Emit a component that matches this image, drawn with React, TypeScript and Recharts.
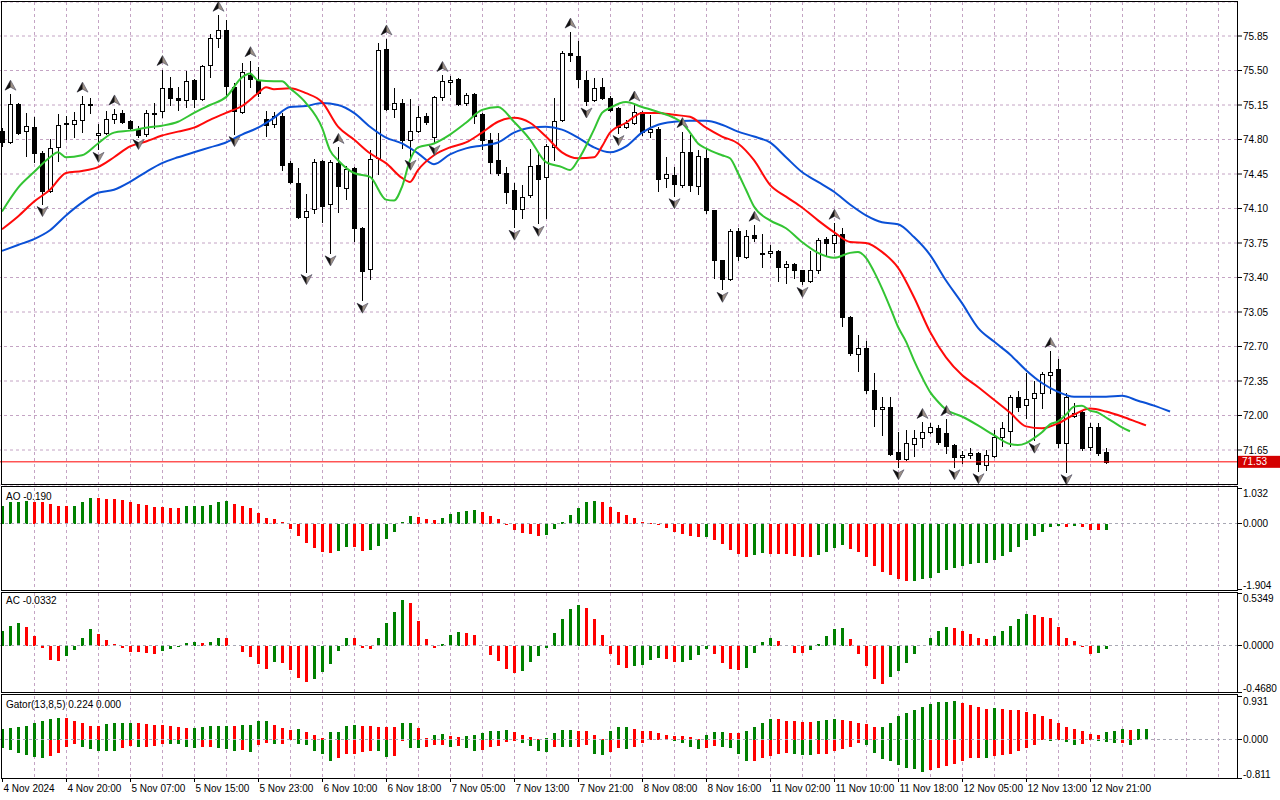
import React from "react";
import { ComposedChart, Bar, Line, XAxis, YAxis, CartesianGrid, ReferenceLine, Cell } from "recharts";

const FONT = '"Liberation Sans", Arial, sans-serif';

// ---------- price candles (hourly) ----------
const OPEN = [
  74.89, 74.77, 75.16, 74.89, 74.93, 74.66, 74.28, 74.72, 74.96, 74.96,
  75.00, 75.15, 74.85, 74.87, 75.01, 75.07, 74.99, 74.91, 74.86, 75.06,
  75.09, 75.32, 75.22, 75.20, 75.40, 75.21, 75.56, 75.83, 75.91, 75.33,
  75.08, 75.45, 75.40, 75.01, 74.96, 75.04, 74.56, 74.36, 74.01, 74.09,
  74.58, 74.15, 74.56, 74.31, 74.51, 73.90, 73.49, 74.61, 75.72, 75.11,
  75.17, 74.80, 74.89, 75.04, 74.83, 75.23, 75.38, 75.41, 75.17, 75.26,
  75.06, 74.80, 74.59, 74.46, 74.29, 74.10, 74.24, 74.54, 74.42, 74.72,
  75.00, 75.68, 75.65, 75.40, 75.20, 75.33, 75.22, 75.12, 74.93, 74.97,
  75.08, 74.88, 74.91, 74.41, 74.44, 74.34, 74.67, 74.33, 74.61, 74.08,
  73.58, 73.38, 73.87, 73.61, 73.83, 73.65, 73.65, 73.67, 73.51, 73.54,
  73.48, 73.36, 73.48, 73.79, 73.75, 73.84, 73.00, 72.62, 72.68, 72.26,
  72.07, 72.09, 71.63, 71.56, 71.71, 71.77, 71.83, 71.87, 71.82, 71.70,
  71.58, 71.60, 71.62, 71.50, 71.59, 71.78, 71.84, 72.19, 72.11, 72.18,
  72.23, 72.41, 72.47, 71.72, 72.00, 72.04, 71.68, 71.88, 71.63,
];
const HIGH = [
  74.92, 75.26, 75.17, 75.07, 75.03, 74.68, 74.81, 75.06, 75.04, 75.08,
  75.24, 75.22, 74.96, 75.09, 75.11, 75.10, 75.00, 74.94, 75.10, 75.17,
  75.51, 75.43, 75.33, 75.50, 75.41, 75.56, 75.87, 76.06, 76.01, 75.37,
  75.58, 75.60, 75.54, 75.09, 75.08, 75.07, 74.58, 74.51, 74.25, 74.60,
  74.59, 74.59, 74.72, 74.53, 74.52, 73.91, 74.69, 75.78, 75.82, 75.32,
  75.21, 75.21, 75.14, 75.07, 75.24, 75.45, 75.44, 75.42, 75.27, 75.27,
  75.07, 74.87, 74.87, 74.52, 74.36, 74.34, 74.70, 74.66, 74.75, 75.22,
  75.70, 75.89, 75.80, 75.50, 75.42, 75.42, 75.24, 75.13, 75.00, 75.15,
  75.09, 75.05, 74.93, 74.62, 74.52, 74.88, 74.85, 74.69, 74.70, 74.08,
  73.58, 73.89, 73.90, 73.88, 73.93, 73.84, 73.73, 73.68, 73.57, 73.55,
  73.48, 73.67, 73.80, 73.81, 73.95, 73.90, 73.01, 72.82, 72.76, 72.43,
  72.19, 72.19, 71.83, 71.85, 71.85, 71.93, 71.92, 71.90, 71.96, 71.71,
  71.64, 71.67, 71.63, 71.65, 71.85, 71.93, 72.21, 72.25, 72.43, 72.35,
  72.44, 72.65, 72.57, 72.23, 72.13, 72.05, 71.92, 71.92, 71.67,
];
const LOW = [
  74.73, 74.76, 74.86, 74.63, 74.57, 74.15, 74.27, 74.58, 74.81, 74.83,
  74.88, 75.07, 74.70, 74.86, 74.97, 74.97, 74.90, 74.83, 74.84, 74.92,
  75.03, 75.15, 75.10, 75.13, 75.13, 75.20, 75.43, 75.74, 75.23, 74.86,
  75.07, 75.33, 75.24, 74.84, 74.93, 74.49, 74.36, 74.00, 73.46, 74.05,
  73.96, 73.65, 74.06, 74.20, 73.77, 73.17, 73.38, 74.45, 75.10, 75.03,
  74.71, 74.62, 74.88, 74.96, 74.77, 75.20, 75.26, 75.15, 75.15, 74.97,
  74.70, 74.46, 74.44, 74.16, 73.91, 74.00, 74.22, 73.95, 74.00, 74.59,
  74.99, 75.60, 75.33, 75.15, 75.19, 75.21, 75.09, 74.87, 74.92, 74.96,
  74.85, 74.83, 74.28, 74.32, 74.23, 74.32, 74.28, 74.25, 74.05, 73.40,
  73.28, 73.37, 73.58, 73.60, 73.77, 73.51, 73.61, 73.36, 73.34, 73.40,
  73.33, 73.35, 73.45, 73.63, 73.66, 72.91, 72.61, 72.45, 72.23, 71.89,
  71.80, 71.60, 71.48, 71.55, 71.59, 71.68, 71.82, 71.71, 71.62, 71.48,
  71.52, 71.57, 71.44, 71.45, 71.58, 71.69, 71.69, 72.05, 71.97, 71.75,
  72.08, 72.23, 71.68, 71.43, 71.98, 71.65, 71.65, 71.60, 71.52,
];
const CLOSE = [
  74.77, 75.16, 74.87, 74.94, 74.66, 74.28, 74.71, 74.95, 74.97, 75.00,
  75.16, 75.16, 74.87, 75.01, 75.06, 74.98, 74.92, 74.85, 75.07, 75.07,
  75.32, 75.22, 75.20, 75.39, 75.21, 75.55, 75.83, 75.91, 75.34, 75.09,
  75.48, 75.41, 75.27, 74.95, 75.04, 74.54, 74.37, 74.01, 74.07, 74.57,
  74.13, 74.57, 74.33, 74.50, 73.90, 73.47, 74.60, 75.71, 75.11, 75.17,
  74.79, 74.89, 75.03, 74.98, 75.23, 75.39, 75.40, 75.16, 75.25, 75.04,
  74.80, 74.57, 74.46, 74.27, 74.10, 74.22, 74.53, 74.40, 74.73, 74.99,
  75.68, 75.66, 75.41, 75.19, 75.32, 75.22, 75.10, 74.93, 74.97, 75.08,
  74.88, 74.91, 74.40, 74.45, 74.35, 74.67, 74.34, 74.63, 74.08, 73.58,
  73.38, 73.87, 73.62, 73.82, 73.80, 73.64, 73.67, 73.51, 73.54, 73.48,
  73.36, 73.48, 73.78, 73.75, 73.83, 73.00, 72.63, 72.68, 72.26, 72.07,
  72.09, 71.61, 71.56, 71.72, 71.77, 71.83, 71.88, 71.73, 71.69, 71.58,
  71.60, 71.62, 71.51, 71.60, 71.78, 71.87, 72.19, 72.09, 72.17, 72.23,
  72.42, 72.44, 71.72, 72.19, 72.03, 71.67, 71.88, 71.62, 71.53,
];

// bars carrying a fractal
const FRACTAL_UP = [1, 10, 14, 20, 27, 31, 42, 48, 55, 71, 79, 85, 94, 104, 115, 118, 131];
const FRACTAL_DOWN = [5, 12, 17, 29, 38, 41, 45, 51, 54, 64, 67, 73, 77, 84, 90, 100, 112, 119, 122, 129, 133];

// ---------- Alligator lines: [bar, price] ----------
const JAW: [number, number][] = [
  [0, 73.67], [2, 73.73], [4, 73.79], [6, 73.88], [8, 74.03], [10, 74.16], [12, 74.26], [14, 74.29],
  [16, 74.37], [18, 74.47], [20, 74.56], [22, 74.62], [24, 74.67], [26, 74.72], [28, 74.77], [30, 74.85],
  [32, 74.92], [34, 75.02], [36, 75.13], [38, 75.14], [40, 75.17], [42, 75.15], [44, 75.07], [46, 74.93],
  [48, 74.82], [50, 74.76], [52, 74.66], [54, 74.55], [56, 74.65], [58, 74.71], [60, 74.74], [62, 74.77],
  [64, 74.87], [66, 74.92], [68, 74.93], [70, 74.90], [72, 74.82], [74, 74.72], [76, 74.67], [78, 74.73],
  [80, 74.87], [82, 74.95], [84, 74.98], [86, 74.99], [88, 74.99], [90, 74.95], [92, 74.88], [94, 74.83],
  [96, 74.77], [98, 74.62], [100, 74.47], [102, 74.37], [104, 74.27], [106, 74.14], [108, 74.03], [110, 73.96],
  [112, 73.94], [114, 73.81], [116, 73.63], [118, 73.37], [120, 73.14], [122, 72.89], [124, 72.75], [126, 72.62],
  [128, 72.46], [130, 72.33], [132, 72.24], [134, 72.19], [136, 72.19], [138, 72.19], [140, 72.20], [142, 72.15],
  [144, 72.10], [146, 72.04],
];
const TEETH: [number, number][] = [
  [0, 73.89], [2, 74.02], [4, 74.17], [6, 74.29], [8, 74.46], [10, 74.48], [12, 74.52], [14, 74.62],
  [16, 74.73], [18, 74.78], [20, 74.84], [22, 74.88], [24, 74.92], [26, 75.00], [28, 75.07], [30, 75.14],
  [32, 75.27], [33, 75.33], [34, 75.31], [36, 75.32], [38, 75.27], [40, 75.18], [42, 74.93], [44, 74.80],
  [46, 74.66], [48, 74.56], [50, 74.41], [51, 74.37], [52, 74.49], [54, 74.64], [56, 74.72], [58, 74.77],
  [60, 74.87], [62, 74.98], [64, 75.02], [66, 74.97], [68, 74.83], [70, 74.67], [72, 74.61], [74, 74.62],
  [75, 74.73], [76, 74.87], [78, 74.97], [80, 75.07], [82, 75.07], [84, 75.05], [86, 75.03], [88, 74.92],
  [90, 74.83], [92, 74.76], [94, 74.59], [96, 74.34], [98, 74.22], [100, 74.11], [102, 73.98], [104, 73.86],
  [106, 73.76], [108, 73.75], [110, 73.66], [112, 73.50], [114, 73.20], [116, 72.85], [118, 72.59], [120, 72.41],
  [122, 72.29], [124, 72.16], [126, 72.03], [128, 71.89], [130, 71.87], [132, 71.92], [134, 72.01], [136, 72.07],
  [138, 72.04], [140, 71.99], [142, 71.93], [143, 71.90],
];
const LIPS: [number, number][] = [
  [0, 74.07], [2, 74.31], [4, 74.47], [6, 74.62], [7, 74.67], [8, 74.62], [10, 74.64], [12, 74.76],
  [14, 74.87], [16, 74.89], [18, 74.92], [20, 74.94], [22, 74.98], [24, 75.07], [26, 75.15], [28, 75.23],
  [30, 75.43], [31, 75.47], [32, 75.40], [34, 75.39], [35, 75.39], [36, 75.32], [38, 75.17], [40, 74.92],
  [41, 74.69], [42, 74.59], [44, 74.46], [46, 74.42], [48, 74.19], [49, 74.18], [50, 74.32], [51, 74.59],
  [52, 74.72], [54, 74.76], [56, 74.85], [58, 74.97], [60, 75.10], [62, 75.13], [64, 74.98], [66, 74.80],
  [68, 74.57], [70, 74.52], [71, 74.49], [72, 74.59], [74, 74.90], [75, 75.07], [76, 75.12], [78, 75.18],
  [80, 75.13], [82, 75.08], [84, 75.02], [85, 74.97], [86, 74.87], [87, 74.76], [88, 74.71], [90, 74.64],
  [91, 74.61], [92, 74.46], [93, 74.29], [94, 74.12], [96, 73.98], [98, 73.90], [100, 73.76], [102, 73.65],
  [104, 73.60], [106, 73.65], [107, 73.66], [108, 73.60], [109, 73.46], [110, 73.29], [111, 73.10], [112, 72.90],
  [113, 72.75], [114, 72.56], [115, 72.39], [116, 72.24], [117, 72.14], [118, 72.06], [120, 71.99], [122, 71.90],
  [124, 71.80], [126, 71.71], [127, 71.70], [128, 71.72], [129, 71.77], [130, 71.83], [131, 71.91], [132, 71.94],
  [133, 72.01], [134, 72.09], [135, 72.10], [136, 72.05], [137, 72.03], [138, 71.98], [139, 71.93], [140, 71.88],
  [141, 71.84],
];

// ---------- oscillators ----------
const AO = [
  0.50, 0.63, 0.635, 0.64, 0.635, 0.62, 0.56, 0.50, 0.495, 0.50,
  0.63, 0.74, 0.73, 0.71, 0.70, 0.68, 0.63, 0.58, 0.53, 0.475,
  0.47, 0.465, 0.46, 0.50, 0.505, 0.51, 0.54, 0.63, 0.66, 0.56,
  0.50, 0.45, 0.31, 0.155, 0.126, 0.03, -0.155, -0.37, -0.57, -0.72,
  -0.82, -0.86, -0.79, -0.68, -0.685, -0.79, -0.77, -0.65, -0.44, -0.24,
  0.04, 0.21, 0.18, 0.13, 0.10, 0.16, 0.27, 0.33, 0.37, 0.40,
  0.33, 0.21, 0.135, -0.04, -0.18, -0.29, -0.30, -0.36, -0.33, -0.155,
  0.04, 0.24, 0.45, 0.63, 0.66, 0.62, 0.48, 0.33, 0.25, 0.155,
  0.04, 0.01, -0.04, -0.13, -0.24, -0.30, -0.36, -0.39, -0.385, -0.47,
  -0.61, -0.77, -0.88, -0.96, -0.91, -0.86, -0.875, -0.88, -0.90, -0.94,
  -0.97, -0.975, -0.91, -0.83, -0.71, -0.63, -0.73, -0.83, -0.97, -1.23,
  -1.41, -1.49, -1.62, -1.67, -1.665, -1.61, -1.57, -1.44, -1.36, -1.28,
  -1.24, -1.18, -1.15, -1.145, -1.07, -0.94, -0.83, -0.68, -0.47, -0.36,
  -0.24, -0.10, -0.07, -0.10, -0.06, -0.10, -0.185, -0.195, -0.19,
];
const AC = [
  0.145, 0.196, 0.226, 0.186, 0.095, -0.027, -0.139, -0.149, -0.108, -0.047,
  0.084, 0.166, 0.115, 0.054, 0.014, -0.027, -0.064, -0.065, -0.074, -0.088,
  -0.057, -0.034, -0.014, 0.024, 0.034, 0.033, 0.035, 0.084, 0.074, -0.007,
  -0.064, -0.118, -0.189, -0.23, -0.169, -0.179, -0.243, -0.328, -0.368, -0.341,
  -0.267, -0.189, -0.057, 0.084, 0.074, -0.025, -0.03, 0.084, 0.23, 0.338,
  0.459, 0.429, 0.247, 0.064, -0.027, 0.014, 0.105, 0.135, 0.125, 0.105,
  -0.007, -0.098, -0.159, -0.24, -0.28, -0.26, -0.169, -0.108, -0.027, 0.125,
  0.267, 0.368, 0.409, 0.378, 0.267, 0.105, -0.078, -0.199, -0.22, -0.209,
  -0.199, -0.145, -0.128, -0.13, -0.166, -0.165, -0.145, -0.095, -0.037, -0.078,
  -0.179, -0.24, -0.25, -0.22, -0.074, 0.034, 0.074, 0.044, -0.007, -0.068,
  -0.069, -0.047, 0.014, 0.095, 0.166, 0.176, 0.064, -0.078, -0.209, -0.341,
  -0.382, -0.311, -0.26, -0.176, -0.088, -0.003, 0.084, 0.155, 0.186, 0.176,
  0.145, 0.115, 0.084, 0.064, 0.095, 0.145, 0.196, 0.267, 0.318, 0.307,
  0.287, 0.277, 0.186, 0.084, 0.044, -0.017, -0.078, -0.068, -0.0332,
];
const GATOR_UP = [
  0.22, 0.248, 0.269, 0.297, 0.354, 0.404, 0.432, 0.46, 0.455, 0.41,
  0.347, 0.29, 0.288, 0.333, 0.347, 0.354, 0.368, 0.347, 0.326, 0.312,
  0.305, 0.29, 0.262, 0.241, 0.248, 0.283, 0.29, 0.297, 0.298, 0.29,
  0.312, 0.319, 0.39, 0.391, 0.305, 0.248, 0.212, 0.22, 0.156, 0.10,
  0.035, 0.156, 0.157, 0.29, 0.305, 0.304, 0.297, 0.276, 0.275, 0.269,
  0.347, 0.368, 0.241, 0.035, 0.113, 0.114, 0.071, 0.07, 0.085, 0.10,
  0.135, 0.177, 0.198, 0.199, 0.163, 0.113, 0.057, 0.028, 0.042, 0.149,
  0.212, 0.213, 0.184, 0.177, 0.113, 0.028, 0.191, 0.262, 0.263, 0.225,
  0.198, 0.177, 0.135, 0.099, 0.078, 0.071, 0.05, 0.021, 0.099, 0.156,
  0.157, 0.155, 0.135, 0.177, 0.262, 0.368, 0.453, 0.452, 0.41, 0.395,
  0.388, 0.382, 0.41, 0.412, 0.432, 0.43, 0.41, 0.368, 0.326, 0.262,
  0.283, 0.368, 0.496, 0.56, 0.644, 0.694, 0.758, 0.793, 0.814, 0.815,
  0.772, 0.73, 0.687, 0.663, 0.666, 0.664, 0.644, 0.623, 0.595, 0.538,
  0.496, 0.432, 0.347, 0.262, 0.22, 0.191, 0.127, 0.113, 0.156, 0.198,
  0.22, 0.219, 0.221, 0.24,
];
const GATOR_DOWN = [
  -0.177, -0.212, -0.29, -0.333, -0.375, -0.39, -0.34, -0.29, -0.156, -0.092,
  -0.156, -0.198, -0.227, -0.228, -0.248, -0.177, -0.135, -0.163, -0.142, -0.141,
  -0.092, -0.093, -0.094, -0.142, -0.184, -0.163, -0.162, -0.184, -0.198, -0.227,
  -0.22, -0.269, -0.12, -0.057, -0.092, -0.085, -0.014, -0.092, -0.106, -0.227,
  -0.305, -0.44, -0.39, -0.305, -0.304, -0.262, -0.227, -0.241, -0.368, -0.34,
  -0.028, -0.177, -0.184, -0.156, -0.113, -0.106, -0.142, -0.141, -0.177, -0.234,
  -0.22, -0.142, -0.135, -0.05, -0.028, -0.078, -0.135, -0.227, -0.262, -0.156,
  -0.157, -0.158, -0.156, -0.106, -0.297, -0.319, -0.262, -0.184, -0.185, -0.142,
  -0.071, -0.014, -0.014, -0.007, -0.02, -0.071, -0.156, -0.198, -0.184, -0.127,
  -0.163, -0.177, -0.305, -0.453, -0.452, -0.39, -0.347, -0.305, -0.29, -0.291,
  -0.319, -0.326, -0.305, -0.297, -0.248, -0.191, -0.142, -0.078, -0.113, -0.283,
  -0.41, -0.453, -0.538, -0.60, -0.623, -0.673, -0.644, -0.595, -0.56, -0.517,
  -0.44, -0.39, -0.39, -0.395, -0.34, -0.319, -0.305, -0.248, -0.177, -0.106,
  -0.014, -0.028, -0.014, -0.05, -0.106, -0.085, -0.01, -0.035, -0.05, -0.071,
  -0.07, -0.12,
];

// ---------- axes ----------
const PRICE_TICKS = [75.85, 75.5, 75.15, 74.8, 74.45, 74.1, 73.75, 73.4, 73.05, 72.7, 72.35, 72.0, 71.65];
const PRICE_DOMAIN: [number, number] = [71.295, 76.195];
const LAST_PRICE = 71.53;
const AO_RANGE: [number, number] = [-1.904, 1.032];
const AC_RANGE: [number, number] = [-0.468, 0.5349];
const GATOR_RANGE: [number, number] = [-0.811, 0.931];
const TIME_TICKS = [0, 8, 16, 24, 32, 40, 48, 56, 64, 72, 80, 88, 96, 104, 112, 120, 128, 136];
const TIME_LABELS = [
  "4 Nov 2024", "4 Nov 20:00", "5 Nov 07:00", "5 Nov 15:00", "5 Nov 23:00", "6 Nov 10:00",
  "6 Nov 18:00", "7 Nov 05:00", "7 Nov 13:00", "7 Nov 21:00", "8 Nov 08:00", "8 Nov 16:00",
  "11 Nov 02:00", "11 Nov 10:00", "11 Nov 18:00", "12 Nov 05:00", "12 Nov 13:00", "12 Nov 21:00",
];
const SLOTS = 155;
const GRID_BARS = Array.from({ length: 38 }, (_, k) => (k + 1) * 4);

const GREEN = "#008000";
const RED = "#ff0000";
const GRID = "#c4a4c4";

const trendColors = (vals: number[], useAbs: boolean) => {
  const out: string[] = [];
  let prev: number | null = null;
  let col = GREEN;
  vals.forEach((v) => {
    const a = useAbs ? Math.abs(v) : v;
    if (prev !== null) {
      if (a > prev) col = GREEN;
      else if (a < prev) col = RED;
    }
    out.push(col);
    prev = a;
  });
  return out;
};
const AO_COL = trendColors(AO, false);
const AC_COL = trendColors(AC, false);
const GU_COL = trendColors(GATOR_UP, true);
const GD_COL = trendColors(GATOR_DOWN, true);

const jawMap = new Map(JAW);
const teethMap = new Map(TEETH);
const lipsMap = new Map(LIPS);

const ROWS = Array.from({ length: SLOTS }, (_, i) => {
  const has = i < OPEN.length;
  return {
    i,
    range: has ? [LOW[i], HIGH[i]] : null,
    o: has ? OPEN[i] : null,
    h: has ? HIGH[i] : null,
    l: has ? LOW[i] : null,
    c: has ? CLOSE[i] : null,
    fu: FRACTAL_UP.includes(i) ? HIGH[i] : null,
    fd: FRACTAL_DOWN.includes(i) ? LOW[i] : null,
    jaw: jawMap.has(i) ? jawMap.get(i) : null,
    teeth: teethMap.has(i) ? teethMap.get(i) : null,
    lips: lipsMap.has(i) ? lipsMap.get(i) : null,
    ao: i < AO.length ? AO[i] : null,
    ac: i < AC.length ? AC[i] : null,
    gu: i < GATOR_UP.length ? GATOR_UP[i] : null,
    gd: i < GATOR_DOWN.length ? GATOR_DOWN[i] : null,
  };
});

// vertical grid every 4 bars, placed at the band centres of the category x axis
const verticalGen = (args: any) => {
  const off = (args && args.offset) || { left: 0, width: 1240 };
  const sc = args && args.xAxis && args.xAxis.scale;
  return GRID_BARS.map((k) => {
    let v: number = NaN;
    try {
      if (typeof sc === "function") {
        const bw = typeof sc.bandwidth === "function" ? sc.bandwidth() : 0;
        v = Number(sc(k)) + bw / 2;
      }
    } catch (e) {
      v = NaN;
    }
    if (!isFinite(v)) v = off.left + ((k + 0.5) * off.width) / SLOTS;
    return Math.floor(v) + 0.5;
  });
};

// ---------- shapes ----------
const Candle = (props: any) => {
  const { x, y, width, height, payload } = props;
  if (!payload || payload.o == null || x == null || y == null) return <g />;
  const y1 = Math.min(y, y + height);
  const y2 = Math.max(y, y + height);
  const { o, h, l, c } = payload;
  const toY = (v: number) => (h === l ? y1 : y1 + ((h - v) / (h - l)) * (y2 - y1));
  const cx = Math.floor(x + width / 2) + 0.5;
  const bull = c >= o;
  const bt = Math.round(toY(Math.max(o, c)));
  const bb = Math.round(toY(Math.min(o, c)));
  return (
    <g>
      <line x1={cx} x2={cx} y1={Math.round(y1)} y2={Math.round(y2) + 1} stroke="#000" strokeWidth={1} />
      {bb - bt < 1 ? (
        <line x1={cx - 2.5} x2={cx + 2.5} y1={bt + 0.5} y2={bt + 0.5} stroke="#000" strokeWidth={1} />
      ) : (
        <rect x={cx - 2} y={bt + 0.5} width={4} height={bb - bt} fill={bull ? "#fff" : "#000"} stroke="#000" strokeWidth={1} />
      )}
    </g>
  );
};

const arrow = (x: number, y: number, dir: number, key: string) => (
  <g key={key}>
    <polygon points={`${x},${y - 5 * dir} ${x + 5.5},${y + 5 * dir} ${x},${y + 2 * dir} ${x - 5.5},${y + 5 * dir}`}
      fill="#9c8f84" stroke="#5a5a6e" strokeWidth={0.7} />
    <polygon points={`${x},${y - 5 * dir} ${x},${y + 2 * dir} ${x - 5.5},${y + 5 * dir}`} fill="#111" />
  </g>
);

const UpFractal = (p: any) => {
  const { cx, cy, index, payload } = p;
  if (!payload || payload.fu == null || cy == null || isNaN(cy)) return <g key={`u${index}`} />;
  return arrow(Math.round(cx) + 0.5, cy - 9, 1, `u${index}`);
};
const DownFractal = (p: any) => {
  const { cx, cy, index, payload } = p;
  if (!payload || payload.fd == null || cy == null || isNaN(cy)) return <g key={`d${index}`} />;
  return arrow(Math.round(cx) + 0.5, cy + 8, -1, `d${index}`);
};

const PriceTag = (props: any) => {
  const vb = props.viewBox || {};
  const x = (vb.x || 0) + (vb.width || 0);
  const y = vb.y || 0;
  return (
    <g>
      <rect x={x} y={y - 6} width={42} height={12} fill="#d40000" />
      <text x={x + 4} y={y} dy="0.36em" fill="#fff" fontSize={10} fontFamily={FONT}>
        {LAST_PRICE.toFixed(2)}
      </text>
    </g>
  );
};

const sideTick = (digits: number, lo: number, hi: number) => (props: any) => {
  const { x, y, payload } = props;
  const v = payload.value as number;
  const ty = v === hi ? y + 5 : v === lo ? y - 4 : y;
  return (
    <text x={x} y={ty} dy="0.36em" fontSize={10} fontFamily={FONT} fill="#000" textAnchor="start">
      {v.toFixed(digits)}
    </text>
  );
};

const TimeTick = (props: any) => {
  const { x, y, payload } = props;
  const idx = TIME_TICKS.indexOf(payload.value);
  const px = Math.floor(x) + 0.5;
  return (
    <g>
      <line x1={px} x2={px} y1={y + 1} y2={y + 4} stroke="#000" />
      <text x={px + 1} y={y + 14} fontSize={10} fontFamily={FONT} fill="#000" textAnchor="start">
        {idx >= 0 ? TIME_LABELS[idx] : ""}
      </text>
    </g>
  );
};

const frame = (top: number, height: number) => (
  <div
    style={{
      position: "absolute", left: 1, top, width: 1237, height,
      border: "1px solid #000", boxSizing: "border-box", pointerEvents: "none",
    }}
  />
);

const label = (text: string, top: number) => (
  <div style={{ position: "absolute", left: 6, top, fontSize: 10, lineHeight: "12px", fontFamily: FONT, color: "#000" }}>
    {text}
  </div>
);

export default function App() {
  return (
    <div style={{ position: "absolute", left: 0, top: 0, width: 1280, height: 800, background: "#fff", overflow: "hidden" }}>
      {/* main price pane */}
      <div style={{ position: "absolute", left: -2, top: 0 }}>
        <ComposedChart width={1282} height={487} data={ROWS} margin={{ top: 2, right: 0, bottom: 2, left: 0 }}>
          <XAxis dataKey="i" hide />
          <YAxis orientation="right" width={42} domain={PRICE_DOMAIN} ticks={PRICE_TICKS} allowDataOverflow
            interval={0} axisLine={false} tickSize={4} tickMargin={1} tickLine={{ stroke: "#000" }}
            tick={{ fontSize: 10, fill: "#000", fontFamily: FONT }} tickFormatter={(v: number) => v.toFixed(2)} />
          <CartesianGrid stroke={GRID} strokeDasharray="3 3" verticalCoordinatesGenerator={verticalGen} />
          <ReferenceLine y={LAST_PRICE} stroke="#ff0000" strokeWidth={1} label={<PriceTag />} />
          <Line dataKey="jaw" type="monotone" stroke="#0a50d6" strokeWidth={2} dot={false} activeDot={false} connectNulls isAnimationActive={false} />
          <Line dataKey="teeth" type="monotone" stroke="#ff0a0a" strokeWidth={2} dot={false} activeDot={false} connectNulls isAnimationActive={false} />
          <Line dataKey="lips" type="monotone" stroke="#33c433" strokeWidth={2} dot={false} activeDot={false} connectNulls isAnimationActive={false} />
          <Bar dataKey="range" barSize={5} shape={<Candle />} isAnimationActive={false} />
          <Line dataKey="fu" stroke="none" dot={UpFractal} activeDot={false} isAnimationActive={false} />
          <Line dataKey="fd" stroke="none" dot={DownFractal} activeDot={false} isAnimationActive={false} />
        </ComposedChart>
      </div>

      {/* AO pane: plot 488..589 */}
      <div style={{ position: "absolute", left: -2, top: 486 }}>
        <ComposedChart width={1282} height={105} data={ROWS} margin={{ top: 2, right: 0, bottom: 2, left: 0 }} style={{ shapeRendering: "crispEdges" }}>
          <XAxis dataKey="i" hide />
          <YAxis orientation="right" width={42} domain={AO_RANGE} ticks={[AO_RANGE[1], 0, AO_RANGE[0]]} allowDataOverflow
            interval={0} axisLine={false} tickSize={4} tickMargin={1} tickLine={{ stroke: "#000" }}
            tick={sideTick(3, AO_RANGE[0], AO_RANGE[1])} />
          <CartesianGrid horizontal={false} stroke={GRID} strokeDasharray="3 3" verticalCoordinatesGenerator={verticalGen} />
          <ReferenceLine y={0} stroke="#a8a8b4" strokeDasharray="3 3" />
          <Bar dataKey="ao" barSize={3} isAnimationActive={false}>
            {ROWS.map((r, i) => (
              <Cell key={`ao${i}`} fill={i < AO_COL.length ? AO_COL[i] : GREEN} />
            ))}
          </Bar>
        </ComposedChart>
      </div>

      {/* AC pane: plot 593..692 */}
      <div style={{ position: "absolute", left: -2, top: 591 }}>
        <ComposedChart width={1282} height={103} data={ROWS} margin={{ top: 2, right: 0, bottom: 2, left: 0 }} style={{ shapeRendering: "crispEdges" }}>
          <XAxis dataKey="i" hide />
          <YAxis orientation="right" width={42} domain={AC_RANGE} ticks={[AC_RANGE[1], 0, AC_RANGE[0]]} allowDataOverflow
            interval={0} axisLine={false} tickSize={4} tickMargin={1} tickLine={{ stroke: "#000" }}
            tick={sideTick(4, AC_RANGE[0], AC_RANGE[1])} />
          <CartesianGrid horizontal={false} stroke={GRID} strokeDasharray="3 3" verticalCoordinatesGenerator={verticalGen} />
          <ReferenceLine y={0} stroke="#a8a8b4" strokeDasharray="3 3" />
          <Bar dataKey="ac" barSize={3} isAnimationActive={false}>
            {ROWS.map((r, i) => (
              <Cell key={`ac${i}`} fill={i < AC_COL.length ? AC_COL[i] : GREEN} />
            ))}
          </Bar>
        </ComposedChart>
      </div>

      {/* Gator pane: plot 696..778 + time axis */}
      <div style={{ position: "absolute", left: -2, top: 694 }}>
        <ComposedChart width={1282} height={106} data={ROWS} stackOffset="sign" margin={{ top: 2, right: 0, bottom: 0, left: 0 }} style={{ shapeRendering: "crispEdges" }}>
          <XAxis dataKey="i" height={22} ticks={TIME_TICKS} interval={0} axisLine={false} tickLine={false}
            tickSize={0} tickMargin={0} tick={<TimeTick />} />
          <YAxis orientation="right" width={42} domain={GATOR_RANGE} ticks={[GATOR_RANGE[1], 0, GATOR_RANGE[0]]} allowDataOverflow
            interval={0} axisLine={false} tickSize={4} tickMargin={1} tickLine={{ stroke: "#000" }}
            tick={sideTick(3, GATOR_RANGE[0], GATOR_RANGE[1])} />
          <CartesianGrid horizontal={false} stroke={GRID} strokeDasharray="3 3" verticalCoordinatesGenerator={verticalGen} />
          <ReferenceLine y={0} stroke="#a8a8b4" strokeDasharray="3 3" />
          <Bar dataKey="gu" stackId="g" barSize={3} isAnimationActive={false}>
            {ROWS.map((r, i) => (
              <Cell key={`gu${i}`} fill={i < GU_COL.length ? GU_COL[i] : GREEN} />
            ))}
          </Bar>
          <Bar dataKey="gd" stackId="g" barSize={3} isAnimationActive={false}>
            {ROWS.map((r, i) => (
              <Cell key={`gd${i}`} fill={i < GD_COL.length ? GD_COL[i] : GREEN} />
            ))}
          </Bar>
        </ComposedChart>
      </div>

      {frame(1, 484)}
      {frame(486, 105)}
      {frame(592, 101)}
      {frame(694, 85)}
      {label("AO -0.190", 491)}
      {label("AC -0.0332", 595)}
      {label("Gator(13,8,5) 0.224 0.000", 699)}
    </div>
  );
}
